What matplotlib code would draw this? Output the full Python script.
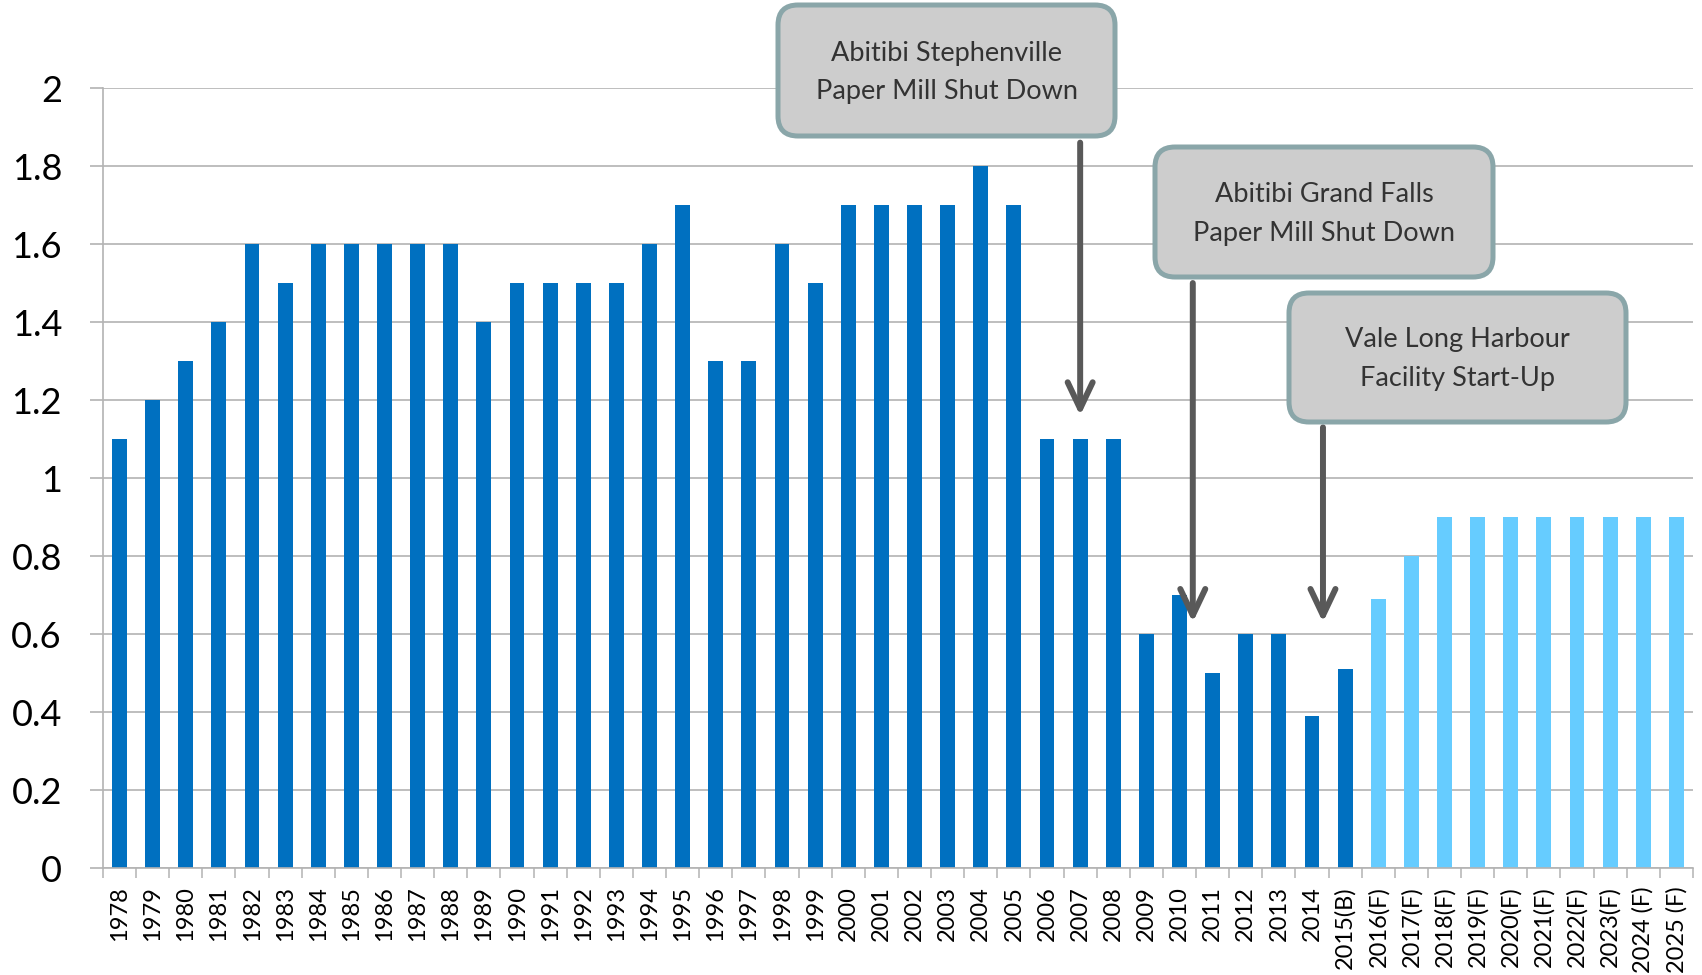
import matplotlib
matplotlib.use("Agg")
import matplotlib.pyplot as plt
from matplotlib.patches import FancyBboxPatch
import numpy as np

plt.rcParams['font.family'] = ['Lato', 'DejaVu Sans']

# Categories and values
years = [str(y) for y in range(1978, 2015)] + ['2015(B)'] + \
        ['2016(F)', '2017(F)', '2018(F)', '2019(F)', '2020(F)',
         '2021(F)', '2022(F)', '2023(F)', '2024 (F)', '2025 (F)']
actual_values = [1.1, 1.2, 1.3, 1.4, 1.6, 1.5, 1.6, 1.6, 1.6, 1.6,
                 1.6, 1.4, 1.5, 1.5, 1.5, 1.5, 1.6, 1.7, 1.3, 1.3,
                 1.6, 1.5, 1.7, 1.7, 1.7, 1.7, 1.8, 1.7, 1.1, 1.1,
                 1.1, 0.6, 0.7, 0.5, 0.6, 0.6, 0.39, 0.51]
forecast_values = [0.69, 0.8, 0.9, 0.9, 0.9, 0.9, 0.9, 0.9, 0.9, 0.9]

y_ticks = [0, 0.2, 0.4, 0.6, 0.8, 1.0, 1.2, 1.4, 1.6, 1.8, 2.0]

# Event callouts: text, box (left, bottom, width, height in inches), arrow (x, y_start, y_end)
events = [
    ("Abitibi Stephenville\nPaper Mill Shut Down", (7.78, 8.39, 3.37, 1.31), (29.0, 1.86, 1.16)),
    ("Abitibi Grand Falls\nPaper Mill Shut Down", (11.55, 6.98, 3.38, 1.30), (32.4, 1.50, 0.63)),
    ("Vale Long Harbour\nFacility Start-Up", (12.89, 5.53, 3.37, 1.29), (36.33, 1.13, 0.63)),
]

dark_blue = '#0070C0'
light_blue = '#66CCFF'
grid_gray = '#b3b3b3'

fig = plt.figure(figsize=(17.02, 9.75), dpi=100)
ax = fig.add_axes([0.0605, 0.1097, 0.9342, 0.8])

values = actual_values + forecast_values
colors = [dark_blue] * len(actual_values) + [light_blue] * len(forecast_values)
x = np.arange(len(years))
ax.bar(x, values, width=0.45, color=colors, zorder=2)

ax.set_xlim(-0.5, len(years) - 0.5)
ax.set_ylim(0, 2)
ax.set_yticks(y_ticks)
ax.set_yticklabels([f"{v:g}" for v in y_ticks])
ax.yaxis.grid(True, color=grid_gray, linewidth=1.2, zorder=0)
ax.set_axisbelow(True)

ax.set_xticks(x)
ax.set_xticklabels(years, rotation=90)
ax.set_xticks(np.arange(-0.5, len(years)), minor=True)
ax.tick_params(axis='x', which='major', length=0, pad=13, labelsize=17, labelcolor='black')
ax.tick_params(axis='x', which='minor', length=7, width=1.1, color=grid_gray)
ax.tick_params(axis='y', length=9.5, width=1.2, color=grid_gray, pad=20, labelsize=26)

for side in ['top', 'right']:
    ax.spines[side].set_visible(False)
for side in ['left', 'bottom']:
    ax.spines[side].set_color(grid_gray)
    ax.spines[side].set_linewidth(1.2)

# Callout boxes and arrows
for text, (bx, by, bw, bh), (ax_x, y0, y1) in events:
    box = FancyBboxPatch((bx, by), bw, bh,
                         boxstyle="round,pad=0,rounding_size=0.2",
                         transform=fig.dpi_scale_trans,
                         facecolor='#cdcdcd', edgecolor='#8aa6a9',
                         linewidth=3.6, zorder=5, clip_on=False)
    fig.add_artist(box)
    fig.text(bx + bw / 2, by + bh / 2 - 0.02, text, transform=fig.dpi_scale_trans,
             ha='center', va='center', fontsize=19.5, color='#333333',
             linespacing=1.7, zorder=6)
    ax.annotate("", xy=(ax_x, y1), xytext=(ax_x, y0),
                arrowprops=dict(arrowstyle='->,head_length=0.95,head_width=0.45',
                                mutation_scale=20, lw=4.3, color='#595959',
                                shrinkA=0, shrinkB=0),
                zorder=4, annotation_clip=False)

fig.savefig("out.png", dpi=100)
